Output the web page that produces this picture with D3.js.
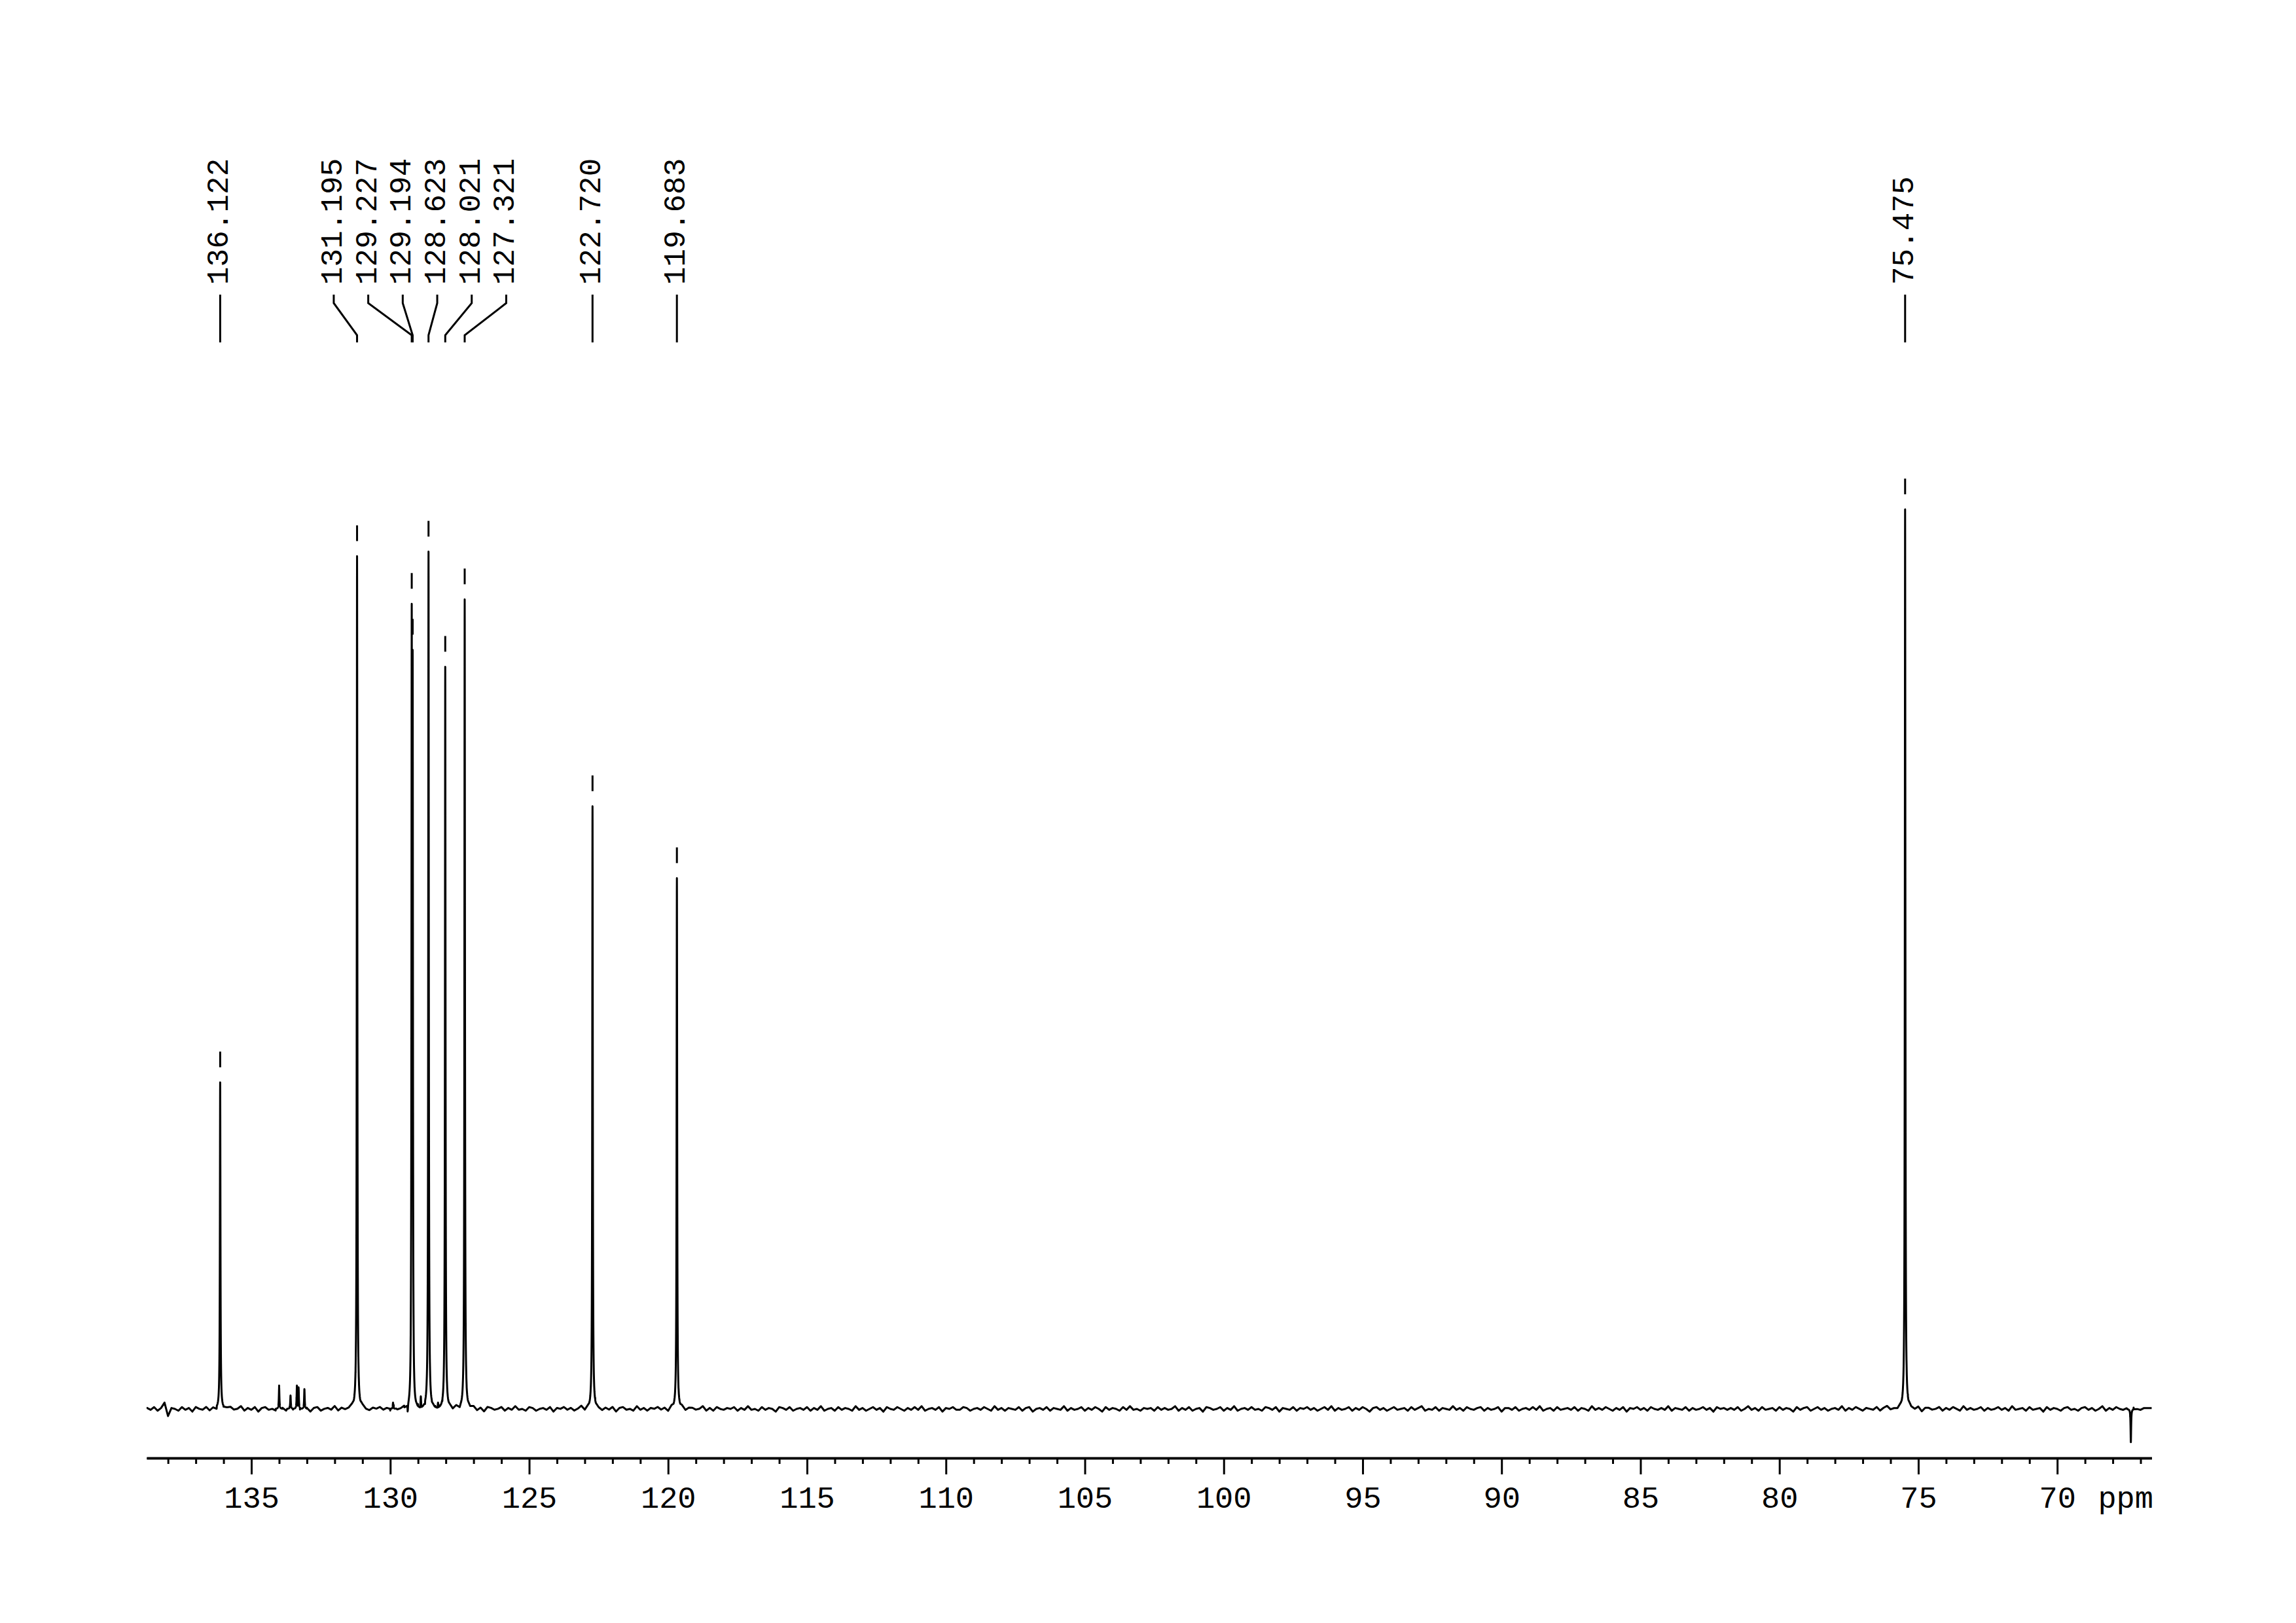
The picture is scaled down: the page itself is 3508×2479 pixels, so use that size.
<!DOCTYPE html>
<html>
<head>
<meta charset="utf-8">
<script src="https://cdn.jsdelivr.net/npm/d3@7"></script>
<style>
  html, body { margin: 0; padding: 0; background: #fff; }
  svg { display: block; }
</style>
</head>
<body>
<script>
// ---------------- data ----------------
const peakPpm = [136.122, 131.195, 129.227, 129.194, 128.623, 128.021, 127.321, 122.720, 119.683, 75.475];
const peakInt = [36.3, 94.8, 89.5, 84.4, 95.3, 82.5, 90.0, 67.0, 59.0, 100.0];
// unlabelled small signals (negative = inverted)
const minorPpm = [134.00, 133.59, 133.36, 133.30, 133.09, 129.90, 129.37, 128.90, 128.28, 67.35];
const minorInt = [2.4, 1.5, 2.6, 2.4, 2.2, 0.7, -0.8, 1.4, 0.7, -3.7];
const majorTicks = [135, 130, 125, 120, 115, 110, 105, 100, 95, 90, 85, 80, 75, 70];
const tickLabels = ["135", "130", "125", "120", "115", "110", "105", "100", "95", "90", "85", "80", "75", "70"];
const unitLabel = "ppm";
const ppmDomain = [138.77, 66.6];
// baseline noise, sampled every 0.125 ppm starting at 138.75 ppm
const noiseStart = 138.75, noiseStep = 0.125;
const noise = [
 0.1,-0.1,0.2,-0.2,0.1,0.7,-0.8,0.1,0.0,-0.2,0.2,-0.1,0.1,-0.3,0.2,0.0,-0.1,0.2,-0.2,0.1,-0.3,0.2,-0.1,0.1,
 0.2,-0.1,0.0,0.3,-0.2,0.1,-0.1,0.2,-0.3,0.1,0.2,-0.1,0.0,-0.2,0.2,0.1,-0.2,0.1,-0.1,0.3,-0.2,0.0,0.1,-0.3,
 0.1,0.2,-0.2,0.0,0.1,-0.1,0.3,-0.2,0.1,-0.1,0.0,0.2,-0.3,0.1,0.2,-0.1,-0.2,0.1,0.0,0.2,-0.1,0.1,-0.2,0.3,
 -0.1,0.0,0.2,-0.2,0.1,-0.1,0.2,0.0,-0.3,0.2,-0.1,0.1,0.2,-0.2,0.0,0.1,-0.1,0.3,-0.2,0.1,-0.1,0.0,0.2,-0.2,
 0.1,-0.3,0.2,0.1,-0.1,0.0,0.2,-0.2,0.1,-0.1,0.3,-0.1,0.0,-0.2,0.2,0.1,-0.2,0.0,0.1,-0.1,0.2,-0.3,0.1,0.0,
 0.2,-0.1,0.1,-0.2,0.0,0.3,-0.2,0.1,-0.1,0.2,0.0,-0.2,0.1,-0.1,0.2,-0.3,0.1,0.2,-0.1,0.0,-0.2,0.3,-0.1,0.1,
 -0.2,0.1,0.0,0.2,-0.1,0.1,-0.3,0.2,0.0,-0.1,0.2,-0.2,0.1,0.1,-0.1,0.0,0.3,-0.2,0.1,-0.2,0.2,0.0,-0.1,0.1,
 0.0,0.2,-0.2,0.1,-0.1,0.3,-0.1,0.0,-0.2,0.2,-0.1,0.1,0.0,-0.3,0.2,0.1,-0.1,0.2,-0.2,0.0,0.1,-0.1,0.2,-0.2,
 0.1,-0.1,0.3,-0.2,0.0,0.1,-0.2,0.2,-0.1,0.1,0.0,-0.2,0.3,-0.1,0.1,-0.2,0.0,0.2,-0.1,0.1,-0.3,0.2,0.0,-0.1,
 0.2,0.0,-0.2,0.1,-0.1,0.2,-0.1,0.3,-0.2,0.0,0.1,-0.1,0.2,-0.3,0.1,0.0,0.2,-0.1,-0.1,0.2,0.1,-0.2,0.0,0.1,
 -0.1,0.2,0.0,-0.2,0.3,-0.1,0.1,-0.2,0.1,0.0,-0.1,0.2,-0.2,0.1,0.2,-0.3,0.0,0.1,-0.1,0.2,-0.2,0.1,0.0,-0.1,
 0.3,-0.2,0.1,-0.1,0.0,0.2,-0.2,0.1,-0.1,0.2,0.0,-0.3,0.2,-0.1,0.1,0.0,-0.2,0.2,-0.1,0.3,-0.1,0.0,-0.2,0.1,
 0.0,0.1,-0.2,0.2,-0.1,0.1,-0.1,0.0,0.3,-0.2,0.1,-0.1,0.2,-0.2,0.0,0.1,-0.3,0.2,0.1,-0.1,0.0,0.2,-0.2,0.1,
 -0.1,0.3,-0.2,0.0,0.1,-0.1,0.2,-0.1,0.0,-0.2,0.2,0.1,-0.1,0.2,-0.3,0.1,0.0,-0.1,0.2,-0.2,0.1,0.0,0.2,-0.1,
 0.1,-0.2,0.0,0.2,-0.1,0.3,-0.2,0.1,-0.1,0.0,0.2,-0.2,0.1,-0.1,0.2,0.0,-0.3,0.1,0.2,-0.1,0.1,-0.2,0.0,0.2,
 -0.1,0.0,0.1,-0.2,0.2,-0.1,0.1,0.3,-0.2,0.0,-0.1,0.2,-0.2,0.1,0.0,-0.1,0.3,-0.1,0.1,-0.2,0.2,0.0,-0.1,0.1,
 0.2,-0.2,0.1,-0.1,0.0,0.2,-0.3,0.1,0.1,-0.1,0.2,-0.2,0.0,0.1,-0.1,0.2,-0.1,0.3,-0.2,0.0,0.1,-0.2,0.2,-0.1,
 0.0,0.1,-0.1,0.2,-0.2,0.1,0.0,-0.2,0.3,-0.1,0.1,-0.1,0.2,0.0,-0.2,0.1,-0.1,0.2,-0.3,0.1,0.0,0.2,-0.1,0.1,
 -0.2,0.2,0.0,-0.1,0.1,-0.1,0.3,-0.2,0.1,0.0,-0.1,0.2,-0.2,0.1,-0.1,0.0,0.2,-0.1,0.1,-0.3,0.2,0.0,0.1,-0.1,
 0.1,-0.1,0.2,-0.2,0.0,0.3,-0.1,0.1,-0.2,0.2,-0.1,0.0,0.1,-0.2,0.2,-0.1,0.1,0.0,-0.3,0.2,-0.1,0.1,0.2,-0.2,
 0.0,0.2,-0.1,0.1,-0.2,0.0,0.1,-0.1,0.3,-0.2,0.1,-0.1,0.2,0.0,-0.2,0.1,0.0,-0.1,0.2,-0.2,0.1,0.3,-0.1,0.0,
 -0.1,0.1,-0.2,0.2,0.0,-0.1,0.2,-0.3,0.1,0.1,-0.1,0.0,0.2,-0.2,0.1,-0.1,0.2,0.0,-0.2,0.3,-0.1,0.1,-0.1,0.0,
 0.2,-0.2,0.1,-0.1,0.0,0.2,-0.1,0.1,-0.2,0.3,-0.1,0.0,0.1,-0.2,0.2,-0.1,0.0,0.1,-0.3,0.2,-0.1,0.1,0.0,-0.2,
 0.1,0.2,-0.1,0.0,-0.2,0.1,0.2,-0.1,0.1,-0.2,0.0,0.3,-0.2,0.1,-0.1,0.2,0.0,-0.1,0.1,-0.2,0.2,0.0,-0.1,0.1,
 0.1
];

// ---------------- layout ----------------
const W = 3508, H = 2479;
const FONT = "'Liberation Mono', 'DejaVu Sans Mono', monospace";
const svg = d3.select("body").append("svg")
  .attr("width", W).attr("height", H)
  .attr("viewBox", `0 0 ${W} ${H}`);
svg.append("rect").attr("width", W).attr("height", H).attr("fill", "#fff");

const x = d3.scaleLinear().domain(ppmDomain).range([224, 3287.5]);
const y = d3.scaleLinear().domain([0, 100]).range([2152, 778]);
const axisY = 2227;
const gamma = 0.012;

// ---------------- spectrum ----------------
const allPpm = peakPpm.concat(minorPpm);
const allInt = peakInt.concat(minorInt);
function shape(p) {
  let pos = 0, neg = 0;
  for (let i = 0; i < allPpm.length; i++) {
    const d = (p - allPpm[i]) / gamma;
    const v = allInt[i] / (1 + d * d);
    if (v > pos) pos = v;
    if (v < neg) neg = v;
  }
  return pos + neg;
}
const pts = [];
noise.forEach((n, i) => {
  const p = noiseStart - i * noiseStep;
  if (p <= ppmDomain[0] && p >= ppmDomain[1]) pts.push([p, shape(p) + n]);
});
pts.push([ppmDomain[0], shape(ppmDomain[0]) + noise[0]]);
pts.push([ppmDomain[1], shape(ppmDomain[1]) + noise[noise.length - 1]]);
allPpm.forEach(c => {
  for (let d = -0.12; d <= 0.1201; d += (Math.abs(d) < 0.06 ? 0.002 : 0.01)) {
    const p = c + d;
    pts.push([p, shape(p)]);
  }
});
pts.sort((a, b) => b[0] - a[0]);

svg.append("path")
  .datum(pts)
  .attr("fill", "none")
  .attr("stroke", "#000")
  .attr("stroke-width", 3)
  .attr("stroke-linejoin", "round")
  .attr("d", d3.line().x(d => x(d[0])).y(d => y(d[1])));

// ---------------- peak-top markers ----------------
svg.append("g").selectAll("line")
  .data(peakPpm.map((p, i) => ({ p, v: peakInt[i] })))
  .join("line")
  .attr("x1", d => x(d.p)).attr("x2", d => x(d.p))
  .attr("y1", d => y(d.v) - 47).attr("y2", d => y(d.v) - 23)
  .attr("stroke", "#000").attr("stroke-width", 3);

// ---------------- peak labels ----------------
const spacing = 52.7;
const items = peakPpm.map((p, i) => ({ p, px: x(p) })).sort((a, b) => a.px - b.px);
let groups = items.map(it => ({ members: [it], center: it.px }));
let changed = true;
while (changed) {
  changed = false;
  for (let i = 1; i < groups.length; i++) {
    const a = groups[i - 1], b = groups[i];
    const aR = a.center + (a.members.length - 1) / 2 * spacing;
    const bL = b.center - (b.members.length - 1) / 2 * spacing;
    if (bL - aR < spacing - 1e-6) {
      const m = a.members.concat(b.members);
      groups.splice(i - 1, 2, { members: m, center: d3.mean(m, d => d.px) });
      changed = true;
      break;
    }
  }
}
groups.forEach(g => g.members.forEach((m, j) => {
  m.lx = g.center + (j - (g.members.length - 1) / 2) * spacing;
}));

const lab = svg.append("g");
lab.selectAll("path")
  .data(items)
  .join("path")
  .attr("fill", "none").attr("stroke", "#000").attr("stroke-width", 3)
  .attr("d", d => `M${d.lx},450 L${d.lx},463 L${d.px},512 L${d.px},523`);
lab.selectAll("text")
  .data(items)
  .join("text")
  .attr("transform", d => `translate(${d.lx},435) rotate(-90)`)
  .attr("text-anchor", "start")
  .attr("dominant-baseline", "central")
  .attr("font-family", FONT)
  .attr("font-size", 46)
  .attr("fill", "#000")
  .text(d => d3.format(".3f")(d.p));

// ---------------- axis ----------------
const minorTicks = d3.range(67, 139).filter(v => v % 5 !== 0);
const gMinor = svg.append("g").attr("transform", `translate(0,${axisY})`)
  .call(d3.axisBottom(x).tickValues(minorTicks).tickSize(9).tickSizeOuter(0).tickFormat(""));
const gMajor = svg.append("g").attr("transform", `translate(0,${axisY})`)
  .call(d3.axisBottom(x).tickValues(majorTicks).tickSize(25).tickSizeOuter(0)
    .tickFormat((d, i) => tickLabels[i]));
[gMinor, gMajor].forEach(g => {
  g.select(".domain").attr("stroke", "#000").attr("stroke-width", 3.5);
  g.selectAll(".tick line").attr("stroke", "#000").attr("stroke-width", 3);
});
gMajor.selectAll(".tick text")
  .attr("y", 76).attr("dy", null)
  .attr("font-family", FONT).attr("font-size", 47).attr("fill", "#000");
svg.append("text")
  .attr("x", 3290).attr("y", axisY + 76)
  .attr("text-anchor", "end")
  .attr("font-family", FONT).attr("font-size", 47).attr("fill", "#000")
  .text(unitLabel);
</script>
</body>
</html>
